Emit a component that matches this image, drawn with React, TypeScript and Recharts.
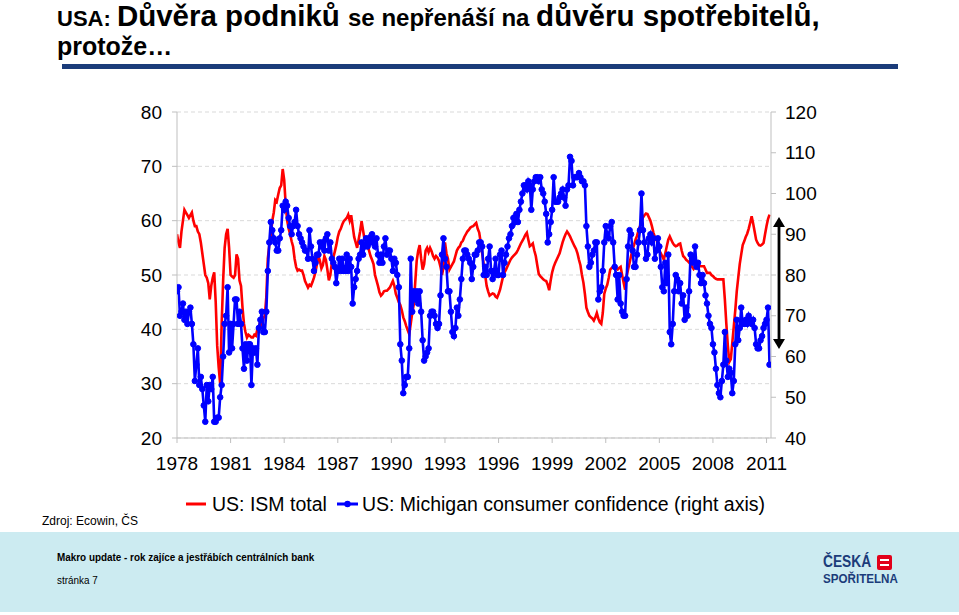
import React from 'react';
import { LineChart, Line, XAxis, YAxis, CartesianGrid } from 'recharts';

// ---- data (monthly, Jan 1978 – Mar 2011) ----
const startYear = 1978;

const ism1978_1989 = [
  57.5, 56, 55, 58, 60, 62, 61.5, 61, 60.5, 61, 61.5, 60,
  59, 59, 58, 57.5, 56, 54, 52, 50, 49.5, 48.5, 45.5, 48,
  49.5, 50.5, 45, 37, 33, 30, 41, 49, 55, 57.5, 58.5, 55,
  50, 49.7, 49.5, 50, 53.8, 53, 49, 48, 44, 41, 39.5, 38.5,
  39, 38.8, 38.5, 38.5, 39, 38.8, 40, 40.5, 41.5, 40.5, 42, 42.5,
  46, 53, 55.5, 57, 60, 61.5, 63.8, 63.5, 64.8, 66, 66.5, 69.5,
  67.5, 63, 60, 58.5, 57.5, 56.2, 55.2, 53, 51.5, 50.8, 51, 50.8,
  50.8, 50, 48.9, 48.3, 47.7, 48.2, 48, 48.7, 49.5, 50.5, 52, 53.5,
  52.6, 51.2, 51.8, 53.5, 52.8, 51, 49, 50, 52.2, 53.2, 54.3, 55.5,
  57, 58, 58.5, 59.3, 59.9, 60.2, 60.5, 61.1, 60, 61, 59, 57,
  56, 55, 56.5, 58, 59.9, 58.2, 56.5, 56.6, 55.5, 54.5, 53.5, 52.8,
  52, 50, 49, 48, 46.8, 46.2, 46.5, 47, 47.1, 47.1, 47.4, 47.7,
];
const ism1990_1999 = [
  48.3, 48.9, 48, 46.5, 45.8, 45, 44.5, 43.5, 42.2, 41.5, 40.6, 39.8,
  39.1, 41, 43, 44.5, 48.5, 52.6, 54.4, 55.5, 53, 51, 52, 54.5,
  55, 54.2, 55, 54.4, 53.5, 53, 53.5, 53.2, 52.6, 51.5, 50, 51.4,
  56, 54, 53, 51, 51.5, 52, 52.5, 53.5, 54.5, 55, 55.3, 56,
  56.3, 57, 57.5, 58, 58.3, 58.7, 58.9, 59, 59.3, 59.6, 58.5, 57.8,
  56, 54, 52, 50, 48, 47, 46.2, 46.4, 46.6, 46.5, 46, 45.8,
  46.5, 47.3, 48.5, 49.7, 50.5, 51, 51.6, 52.2, 52.8, 53.2, 53.5, 53.8,
  54.1, 54.6, 55.2, 55.8, 56.3, 56.8, 57.4, 57.8, 56.5, 55.3, 55.5, 55.8,
  54.5, 53.5, 51.8, 50.2, 49.8, 49.5, 49.2, 49, 48.9, 48.2, 47.2, 49,
  50.5, 51.5, 52.2, 52.8, 53.4, 54, 55, 56, 56.8, 57.5, 58, 57.6,
];
const ism2000_2011 = [
  57.1, 56.5, 55.9, 55.3, 54.8, 54, 52.8, 51.8, 50, 48.6, 46.5, 44,
  43.2, 42.5, 42.2, 42, 41.6, 42.2, 43, 42, 41.3, 41, 43, 46.5,
  47.5, 48.2, 49.5, 51, 51.3, 51.5, 51.4, 51.2, 51, 51.3, 51.5, 50,
  48.6, 47.3, 49.8, 51, 52.2, 53.5, 54.7, 55.5, 56.5, 57.2, 58.2, 59,
  60, 60.6, 61, 61.3, 61.2, 60.6, 60, 59, 57.8, 57, 56.5, 55.8,
  54.5, 54, 53.4, 52.8, 54, 55.3, 56.5, 57.1, 56.5, 55.9, 55.5, 55.3,
  55.4, 55.7, 55.8, 54.5, 53.5, 53.2, 52.8, 52.6, 52.3, 52, 51.5, 51.1,
  51.5, 52.2, 51.8, 51.6, 51.6, 51.6, 51.6, 51, 50.4, 50.4, 50.4, 50,
  49.8, 49.5, 49.3, 49.2, 49.2, 49.2, 49.2, 49.2, 45.5, 41, 37, 34,
  34.5, 37.5, 40.5, 43.5, 47, 49.5, 52, 53.8, 55.5, 56.2, 57, 57.6,
  58.5, 59.6, 60.8, 59.5, 58, 56.5, 55.9, 55.5, 55.4, 55.6, 55.9, 57.5,
  59, 60.3, 61.1,
];

const mich1978_1989 = [
  76, 77, 70, 71, 73, 69, 71, 68, 71, 72, 68, 63,
  54, 58, 62, 53, 55, 52, 48, 44, 53, 49, 53, 52,
  55, 44, 44, 45, 45, 50, 53, 60, 68, 70, 77, 61,
  68, 62, 68, 74, 74, 68, 71, 68, 62, 57, 63, 59,
  63, 63, 53, 62, 61, 62, 58, 67, 69, 71, 66, 66,
  71, 81, 88, 93, 91, 89, 88, 86, 86, 89, 91, 97,
  96, 98, 97, 94, 92, 90, 92, 93, 96, 92, 90, 89,
  88, 87, 86, 86, 84, 91, 87, 84, 81, 83, 85, 85,
  88, 87, 88, 86, 89, 90, 86, 88, 84, 83, 82, 78,
  81, 84, 81, 84, 81, 81, 85, 81, 84, 82, 73, 77,
  79, 81, 84, 85, 88, 85, 87, 89, 87, 89, 88, 90,
  88, 87, 89, 85, 83, 85, 83, 87, 89, 85, 86, 86,
];
const mich1990_1999 = [
  84, 81, 84, 83, 80, 77, 63, 59, 51, 53, 55, 55,
  62, 84, 71, 76, 74, 76, 73, 76, 71, 64, 59, 60,
  61, 62, 70, 71, 71, 70, 68, 67, 68, 75, 85, 89,
  84, 82, 76, 76, 71, 66, 65, 67, 72, 70, 74, 79,
  84, 86, 86, 85, 84, 83, 79, 82, 85, 85, 86, 88,
  88, 87, 80, 82, 80, 84, 87, 81, 79, 81, 84, 80,
  80, 85, 86, 80, 83, 85, 87, 89, 90, 92, 94, 93,
  95, 93, 96, 98, 100, 102, 102, 101, 103, 102, 96, 101,
  103, 104, 104, 103, 104, 101, 100, 98, 95, 88, 90, 93,
  96, 104, 98, 98, 98, 99, 100, 101, 99, 97, 101, 102,
];
const mich2000_2011 = [
  109, 108, 102, 104, 104, 104, 105, 104, 103, 103, 102, 92,
  87, 82, 83, 85, 86, 88, 88, 74, 76, 77, 81, 88,
  92, 90, 89, 92, 93, 88, 82, 80, 74, 80, 73, 71,
  70, 70, 79, 87, 91, 90, 86, 82, 82, 85, 88, 91,
  100, 91, 88, 84, 85, 89, 90, 88, 89, 84, 86, 89,
  87, 82, 77, 76, 83, 78, 85, 66, 63, 68, 76, 80,
  79, 76, 78, 73, 75, 69, 72, 70, 76, 85, 84, 83,
  87, 82, 83, 80, 78, 80, 78, 75, 73, 70, 68, 67,
  63, 61, 57, 53, 51, 50, 54, 58, 66, 59, 55, 57,
  56, 51, 54, 63, 69, 64, 67, 72, 68, 68, 69, 68,
  70, 69, 68, 69, 67, 63, 62, 62, 64, 65, 67, 68,
  69, 72, 58,
];

const xTicks = [1978, 1981, 1984, 1987, 1990, 1993, 1996, 1999, 2002, 2005, 2008, 2011];
const leftTicks = [20, 30, 40, 50, 60, 70, 80];
const rightTicks = [40, 50, 60, 70, 80, 90, 100, 110, 120];
const seriesNames = ['US: ISM total', 'US: Michigan consumer confidence (right axis)'];

const ism = [...ism1978_1989, ...ism1990_1999, ...ism2000_2011];
const michigan = [...mich1978_1989, ...mich1990_1999, ...mich2000_2011];
const data = ism.map((v, i) => ({ t: startYear + i / 12, ism: v, mich: michigan[i] }));

const FONT = '"Liberation Sans", Arial, Helvetica, sans-serif';
const RED = '#FF0000';
const BLUE = '#0000FF';
const AXIS = '#BFBFBF';
const NAVY = '#1B3C7A';

export default function App() {
  const tickStyle = { fill: '#000', fontSize: 19, fontFamily: FONT };
  return (
    <div style={{ position: 'absolute', left: 0, top: 0, width: 959, height: 615, background: '#fff', overflow: 'hidden', fontFamily: FONT }}>
      {/* Title */}
      <div style={{ position: 'absolute', left: 57, top: 2, height: 28, lineHeight: '28px', whiteSpace: 'nowrap', fontWeight: 'bold', color: '#000' }}>
        <span style={{ fontSize: 22 }}>USA: </span>
        <span style={{ fontSize: 29.5 }}>Důvěra podniků </span>
        <span style={{ fontSize: 24 }}>se nepřenáší na </span>
        <span style={{ fontSize: 29.5 }}>důvěru spotřebitelů,</span>
      </div>
      <div style={{ position: 'absolute', left: 57, top: 34, height: 24, lineHeight: '24px', whiteSpace: 'nowrap', fontWeight: 'bold', fontSize: 25, color: '#000' }}>
        protože…
      </div>
      <div style={{ position: 'absolute', left: 62, top: 64, width: 836, height: 5, background: NAVY }} />

      <div style={{ position: 'absolute', left: 0, top: 0 }}>
        <LineChart width={959} height={615} data={data} margin={{ top: 112, right: 128, bottom: 137, left: 100 }}>
          <CartesianGrid yAxisId="left" vertical={false} stroke="#D9D9D9" strokeDasharray="4 3" />
          <XAxis
            dataKey="t"
            type="number"
            domain={[1978, 2011.25]}
            ticks={xTicks}
            allowDataOverflow
            height={40}
            tick={tickStyle}
            tickSize={5}
            tickMargin={14}
            axisLine={{ stroke: AXIS }}
            tickLine={{ stroke: AXIS }}
          />
          <YAxis
            yAxisId="left"
            orientation="left"
            domain={[20, 80]}
            ticks={leftTicks}
            width={77}
            tick={tickStyle}
            tickSize={5}
            tickMargin={10}
            axisLine={{ stroke: AXIS }}
            tickLine={{ stroke: AXIS }}
          />
          <YAxis
            yAxisId="right"
            orientation="right"
            domain={[40, 120]}
            ticks={rightTicks}
            width={60}
            tick={tickStyle}
            tickSize={5}
            tickMargin={9}
            axisLine={{ stroke: AXIS }}
            tickLine={{ stroke: AXIS }}
          />
          <Line yAxisId="left" type="linear" dataKey="ism" stroke={RED} strokeWidth={2.6} dot={false} isAnimationActive={false} />
          <Line
            yAxisId="right"
            type="linear"
            dataKey="mich"
            stroke={BLUE}
            strokeWidth={2.6}
            dot={{ r: 2.8, fill: BLUE, stroke: BLUE, strokeWidth: 1 }}
            isAnimationActive={false}
          />
        </LineChart>
      </div>

      {/* double arrow annotation */}
      <svg width={959} height={615} style={{ position: 'absolute', left: 0, top: 0, pointerEvents: 'none' }}>
        <line x1={779} y1={224} x2={779} y2={342} stroke="#000" strokeWidth={2.8} />
        <polygon points="779,217 773,227 785,227" fill="#000" />
        <polygon points="779,349 773,339 785,339" fill="#000" />
      </svg>

      {/* Legend */}
      <div style={{ position: 'absolute', left: 186, top: 492, height: 24, display: 'flex', alignItems: 'center', whiteSpace: 'nowrap', fontSize: 19.5, color: '#000' }}>
        <svg width={20} height={10} style={{ marginRight: 6 }}><line x1={0} y1={5} x2={20} y2={5} stroke={RED} strokeWidth={3} /></svg>
        <span>{seriesNames[0]}</span>
        <svg width={21} height={10} style={{ marginLeft: 10, marginRight: 4 }}>
          <line x1={0} y1={5} x2={21} y2={5} stroke={BLUE} strokeWidth={3} />
          <circle cx={10.5} cy={5} r={3.2} fill={BLUE} />
        </svg>
        <span>{seriesNames[1]}</span>
      </div>

      <div style={{ position: 'absolute', left: 42, top: 513, fontSize: 12, lineHeight: '16px', color: '#000', whiteSpace: 'nowrap' }}>Zdroj: Ecowin, ČS</div>

      {/* Footer band */}
      <div style={{ position: 'absolute', left: 0, top: 532, width: 959, height: 80, background: '#CCEBF1' }}>
        <div style={{ position: 'absolute', left: 57, top: 18, fontWeight: 'bold', fontSize: 11.5, lineHeight: '14px', whiteSpace: 'nowrap', color: '#000', transform: 'scaleX(0.86)', transformOrigin: 'left center' }}>
          Makro  update - rok zajíce a jestřábích centrálních bank
        </div>
        <div style={{ position: 'absolute', left: 57, top: 41, fontSize: 11.5, lineHeight: '14px', whiteSpace: 'nowrap', color: '#000', transform: 'scaleX(0.86)', transformOrigin: 'left center' }}>stránka 7</div>
        <div style={{ position: 'absolute', left: 823, top: 20, fontWeight: 'bold', color: NAVY, whiteSpace: 'nowrap', transform: 'scaleX(0.86)', transformOrigin: 'left top' }}>
          <div style={{ fontSize: 16, lineHeight: '19px' }}>ČESKÁ</div>
          <div style={{ fontSize: 13.5, lineHeight: '16px' }}>SPOŘITELNA</div>
        </div>
        <div style={{ position: 'absolute', left: 877, top: 23, width: 15, height: 15, background: '#E2001A', borderRadius: 2 }}>
          <div style={{ position: 'absolute', left: 3, top: 4, width: 9, height: 2, background: '#fff' }} />
          <div style={{ position: 'absolute', left: 3, top: 9, width: 9, height: 2, background: '#fff' }} />
        </div>
      </div>
    </div>
  );
}
